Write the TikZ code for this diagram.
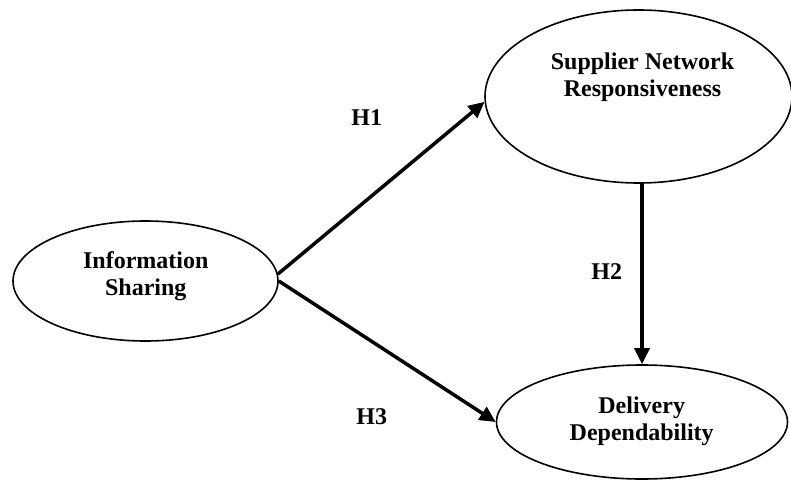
\documentclass[tikz,border=0pt]{standalone}
\usepackage{fontspec}
\setmainfont{Liberation Serif}
\usetikzlibrary{shapes.geometric,arrows.meta}
\begin{document}
\begin{tikzpicture}[x=1pt,y=-1pt,
  construct/.style={draw, ellipse, line width=1.6pt, inner sep=0pt},
  ctext/.style={align=center, font=\fontsize{24}{27}\selectfont\bfseries, inner sep=0pt},
  hlabel/.style={font=\fontsize{24}{27}\selectfont\bfseries, inner sep=0pt},
  path/.style={line width=3.5pt, -{Triangle[length=16pt,width=15pt]}}
]
\useasboundingbox (0,0) rectangle (791,481);
\node[construct, minimum width=265pt, minimum height=120pt] (info) at (145.5,281) {};
\node[construct, minimum width=307pt, minimum height=173pt] (snr) at (638.5,96.5) {};
\node[construct, minimum width=291pt, minimum height=114pt] (dd) at (642,422) {};
\node[ctext] (infot) at (145.8,276) {Information\\Sharing};
\node[ctext] (snrt) at (642.5,77) {Supplier Network\\Responsiveness};
\node[ctext] (ddt) at (641.7,421) {Delivery\\Dependability};
\draw[path] (info.3) -- (snr.182);
\draw[path] (info.east) -- (dd.west);
\draw[path] (snr.south -| dd.north) -- (dd.north);
\node[hlabel] (h1) at (366.7,118) {H1};
\node[hlabel] (h2) at (606.7,271.7) {H2};
\node[hlabel] (h3) at (371.7,416.7) {H3};
\end{tikzpicture}
\end{document}
